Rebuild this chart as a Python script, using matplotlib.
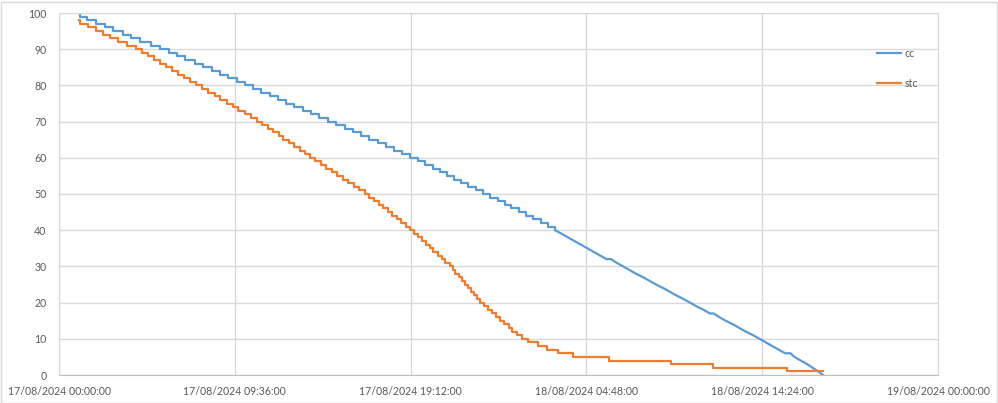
import matplotlib
matplotlib.use("Agg")
import matplotlib.pyplot as plt
import matplotlib.dates as mdates
from matplotlib.patches import Rectangle
from datetime import datetime, timedelta

# hours after 17/08/2024 00:00 at which each level is reached
cc_step_h = [1.09, 1.12, 1.55, 2.0, 2.5, 2.95, 3.5, 3.95, 4.45, 5.0, 5.52,
             6.0, 6.45, 6.9, 7.4, 7.85, 8.35, 8.8, 9.25, 9.7, 10.16,
             10.6, 11.05, 11.5, 11.95, 12.4, 12.85, 13.3, 13.75, 14.2, 14.69,
             15.15, 15.6, 16.05, 16.5, 16.95, 17.4, 17.85, 18.3, 18.75, 19.17,
             19.6, 20.0, 20.4, 20.8, 21.2, 21.55, 21.95, 22.35, 22.75, 23.15,
             23.55, 23.95, 24.35, 24.7, 25.1, 25.5, 25.9, 26.3, 26.7, 27.09]
cc_step_v = [100, 99, 98, 97, 96, 95, 94, 93, 92, 91, 90,
             89, 88, 87, 86, 85, 84, 83, 82, 81, 80,
             79, 78, 77, 76, 75, 74, 73, 72, 71, 70,
             69, 68, 67, 66, 65, 64, 63, 62, 61, 60,
             59, 58, 57, 56, 55, 54, 53, 52, 51, 50,
             49, 48, 47, 46, 45, 44, 43, 42, 41, 40]

cc_tail_h = [27.09, 27.45, 27.8, 28.15, 28.5, 28.85, 29.2, 29.55, 29.9, 30.15,
             30.45, 30.8, 31.15, 31.5, 31.9, 32.25, 32.6, 33.0, 33.35, 33.7,
             34.1, 34.45, 34.8, 35.2, 35.55, 35.75, 36.05, 36.4, 36.8, 37.15,
             37.5, 37.9, 38.25, 38.6, 38.95, 39.3, 39.65, 39.95, 40.15, 40.5,
             40.85, 41.15, 41.45, 41.72]
cc_tail_v = [40, 39, 38, 37, 36, 35, 34, 33, 32, 32,
             31, 30, 29, 28, 27, 26, 25, 24, 23, 22,
             21, 20, 19, 18, 17, 17, 16, 15, 14, 13,
             12, 11, 10, 9, 8, 7, 6, 6, 5, 4,
             3, 2, 1, 0]

stc_h = [1.09, 1.15, 1.6, 2.0, 2.4, 2.8, 3.2, 3.7, 4.2,
         4.55, 4.85, 5.2, 5.5, 5.85, 6.15, 6.5, 6.8, 7.15, 7.48,
         7.8, 8.15, 8.5, 8.8, 9.15, 9.5, 9.8, 10.15, 10.5, 10.81,
         11.1, 11.4, 11.7, 12.0, 12.25, 12.55, 12.85, 13.15, 13.45, 13.71,
         14.0, 14.3, 14.6, 14.9, 15.2, 15.5, 15.8, 16.1, 16.4, 16.71,
         16.95, 17.2, 17.45, 17.7, 17.95, 18.2, 18.45, 18.7, 18.95, 19.17,
         19.4, 19.6, 19.8, 20.05, 20.25, 20.45, 20.7, 20.9, 21.1, 21.35,
         21.5, 21.65, 21.85, 22.0, 22.15, 22.35, 22.5, 22.65, 22.85, 22.99,
         23.2, 23.45, 23.65, 23.85, 24.1, 24.3, 24.55, 24.75, 25.0, 25.28,
         25.61, 26.16, 26.65, 27.25, 28.07, 30.03, 33.42, 35.71, 39.75, 41.72]
stc_v = [98, 97, 96, 95, 94, 93, 92, 91, 90,
         89, 88, 87, 86, 85, 84, 83, 82, 81, 80,
         79, 78, 77, 76, 75, 74, 73, 72, 71, 70,
         69, 68, 67, 66, 65, 64, 63, 62, 61, 60,
         59, 58, 57, 56, 55, 54, 53, 52, 51, 50,
         49, 48, 47, 46, 45, 44, 43, 42, 41, 40,
         39, 38, 37, 36, 35, 34, 33, 32, 31, 30,
         29, 28, 27, 26, 25, 24, 23, 22, 21, 20,
         19, 18, 17, 16, 15, 14, 13, 12, 11, 10,
         9, 8, 7, 6, 5, 4, 3, 2, 1, 1]

start = datetime(2024, 8, 17)
end = datetime(2024, 8, 19)
tick_step = timedelta(hours=9, minutes=36)


def to_dates(hours):
    return [start + timedelta(hours=h) for h in hours]


fig = plt.figure(figsize=(9.98, 4.03), dpi=100)
ax = fig.add_axes([59 / 998, 1 - 375 / 403, (938 - 59) / 998, (375 - 13) / 403])

blue = "#5b9bd5"
orange = "#ed7d31"
ax.step(to_dates(cc_step_h), cc_step_v, where="post", color=blue, lw=1.6, label="cc")
ax.plot(to_dates(cc_tail_h), cc_tail_v, color=blue, lw=1.6)
ax.step(to_dates(stc_h), stc_v, where="post", color=orange, lw=1.6, label="stc")

ax.set_ylim(0, 100)
ax.set_yticks(range(0, 101, 10))
ax.set_xlim(start, end)
ax.set_xticks([start + i * tick_step for i in range(6)])
ax.xaxis.set_major_formatter(mdates.DateFormatter("%d/%m/%Y %H:%M:%S"))

ax.grid(True, color="#d9d9d9", lw=1)
ax.set_axisbelow(True)
for side in ["top", "right", "left"]:
    ax.spines[side].set_color("#d9d9d9")
ax.spines["bottom"].set_color("#bfbfbf")
ax.tick_params(length=0, labelsize=7.6, labelcolor="#595959")
ax.tick_params(axis="x", pad=8)
ax.tick_params(axis="y", pad=9)
for lab in ax.get_xticklabels() + ax.get_yticklabels():
    lab.set_family("Lato")

leg = ax.legend(loc="upper left", bbox_to_anchor=(877 / 998, 1 - 48 / 403),
                bbox_transform=fig.transFigure, frameon=False,
                prop={"family": "Lato", "size": 7.6}, handlelength=2.3,
                handletextpad=0.3, labelspacing=1.8, borderpad=0, borderaxespad=0)
for t in leg.get_texts():
    t.set_color("#595959")

fig.patches.append(Rectangle((0.5 / 998, 0.5 / 403), 996 / 998, 401 / 403,
                             transform=fig.transFigure, fill=False,
                             edgecolor="#d9d9d9", lw=1))

fig.savefig("out.png", dpi=100)
